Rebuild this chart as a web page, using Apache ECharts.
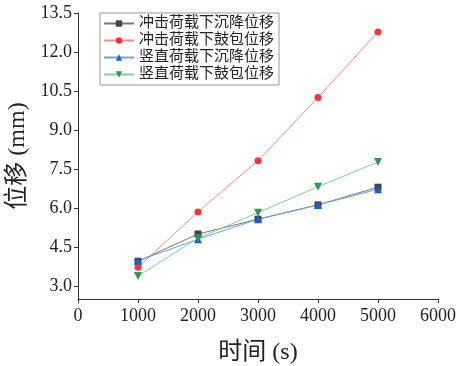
<!DOCTYPE html>
<html>
<head>
<meta charset="utf-8">
<script src="https://cdn.jsdelivr.net/npm/echarts@6/dist/echarts.min.js"></script>
<style>
html, body { margin: 0; padding: 0; background: #fff; }
#chart { width: 458px; height: 366px; }
</style>
</head>
<body>
<div id="chart"></div>
<script>
// data
var times = [1000, 2000, 3000, 4000, 5000]
var chongjiSettle = [3.95, 5.0, 5.57, 6.12, 6.8]
var chongjiBulge = [3.72, 5.85, 7.82, 10.25, 12.77]
var shuzhiSettle = [3.97, 4.8, 5.57, 6.12, 6.72]
var shuzhiBulge = [3.38, 4.84, 5.82, 6.82, 7.77]
var yTicks = [3.0, 4.5, 6.0, 7.5, 9.0, 10.5, 12.0, 13.5]
var names = ['冲击荷载下沉降位移', '冲击荷载下鼓包位移', '竖直荷载下沉降位移', '竖直荷载下鼓包位移']

var font = "'Liberation Serif', 'Times New Roman', 'Noto Sans CJK SC', serif"

function pairs (ys) {
  return times.map(function (t, i) { return [t, ys[i]] })
}

function makeSeries (name, ys, symbol, size, markColor, lineColor) {
  return {
    name: name,
    type: 'line',
    data: pairs(ys),
    symbol: symbol,
    symbolSize: size,
    itemStyle: { color: markColor },
    lineStyle: { color: lineColor, width: 1 },
    emphasis: { disabled: true }
  }
}

var chart = echarts.init(document.getElementById('chart'))
chart.setOption({
  backgroundColor: '#fff',
  animation: false,
  grid: { left: 78, right: 20, top: 13, bottom: 67, containLabel: false, outerBoundsMode: 'none' },
  legend: {
    left: 100,
    top: 13,
    orient: 'vertical',
    itemWidth: 30,
    itemHeight: 8,
    itemGap: 2,
    padding: [3, 5, 3, 3],
    borderColor: '#999',
    borderWidth: 1,
    textStyle: { fontFamily: font, fontSize: 15, lineHeight: 15, color: '#222' },
    data: names
  },
  xAxis: {
    type: 'value',
    min: 0,
    max: 6000,
    interval: 1000,
    name: '时间 (s)',
    nameLocation: 'middle',
    nameGap: 42,
    nameTextStyle: { fontFamily: font, fontSize: 24, color: '#222' },
    splitLine: { show: false },
    axisLine: { lineStyle: { color: '#333' } },
    axisTick: { inside: false, length: 4, lineStyle: { color: '#333' } },
    axisLabel: {
      fontFamily: font,
      fontSize: 18,
      color: '#222',
      margin: 8,
      formatter: function (v) { return String(v) }
    }
  },
  yAxis: {
    type: 'value',
    min: 2.5,
    max: 13.5,
    name: '位移 (mm)',
    nameLocation: 'middle',
    nameGap: 48,
    nameTextStyle: { fontFamily: font, fontSize: 24, color: '#222' },
    splitLine: { show: false },
    axisLine: { show: true, lineStyle: { color: '#333' } },
    axisTick: { show: true, length: 4, customValues: yTicks, lineStyle: { color: '#333' } },
    axisLabel: {
      fontFamily: font,
      fontSize: 18,
      color: '#222',
      margin: 6,
      customValues: yTicks,
      formatter: function (v) { return v.toFixed(1) }
    }
  },
  series: [
    makeSeries(names[0], chongjiSettle, 'rect', 7, '#444', '#777'),
    makeSeries(names[1], chongjiBulge, 'circle', 7, '#f33', '#f88'),
    makeSeries(names[2], shuzhiSettle, 'triangle', 8, '#1a5fd6', '#6e9ff0'),
    makeSeries(names[3], shuzhiBulge, 'path://M0,0L10,0L5,9Z', 8, '#2a9a55', '#82d0a0')
  ]
})
</script>
</body>
</html>
